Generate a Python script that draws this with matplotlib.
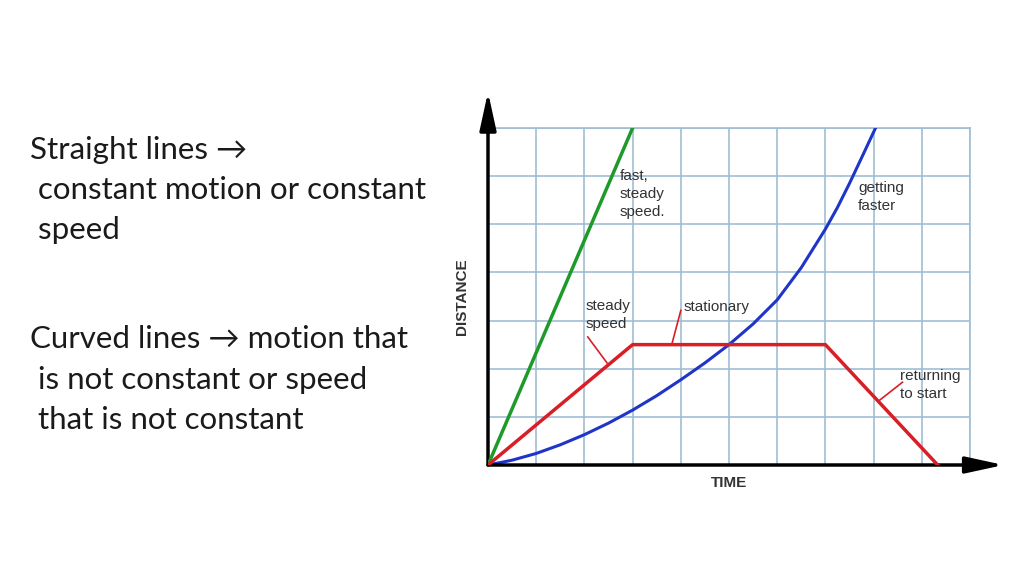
import numpy as np
import matplotlib.pyplot as plt

# grid units: time 0..10, distance 0..7
fast_t = [0, 3]
fast_d = [0, 7]

steady_t = [0, 3, 7, 9.33]
steady_d = [0, 2.5, 2.5, 0]

accel_t = [0, 0.5, 1, 1.5, 2, 2.5, 3, 3.5, 4, 4.5, 5, 5.5, 6, 6.5, 7, 7.25, 7.5, 7.75, 8.04]
accel_d = [0, 0.1, 0.24, 0.42, 0.63, 0.87, 1.14, 1.44, 1.77, 2.12, 2.5, 2.93, 3.43, 4.1, 4.9, 5.35, 5.85, 6.38, 7.0]

left_lines = ["Straight lines \u2192", " constant motion or constant", " speed",
              "Curved lines \u2192 motion that", " is not constant or speed", " that is not constant"]
left_y = [150, 190, 230, 339, 380, 420]

plt.rcParams['font.family'] = ['Lato', 'DejaVu Sans']
fig = plt.figure(figsize=(10.24, 5.76), dpi=100)

for s, y in zip(left_lines, left_y):
    fig.text(30 / 1024, 1 - y / 576, s, fontsize=22.5, va='center', ha='left', color='#1a1a1a')

ax = fig.add_axes([488 / 1024, 1 - 465 / 576, 482 / 1024, 337 / 576])
ax.set_xlim(0, 10)
ax.set_ylim(0, 7)
ax.set_xticks(range(11))
ax.set_yticks(range(8))
ax.grid(True, color='#9fbdd3', lw=1.2)
ax.tick_params(length=0, labelbottom=False, labelleft=False)
for sp in ['top', 'right']:
    ax.spines[sp].set_color('#9fbdd3')
    ax.spines[sp].set_linewidth(1.2)
for sp in ['left', 'bottom']:
    ax.spines[sp].set_visible(False)

ax.plot(fast_t, fast_d, color='#1e9a2a', lw=2.5, zorder=4)
ax.plot(steady_t, steady_d, color='#d81f26', lw=2.5, zorder=4)
ax.plot(accel_t, accel_d, color='#1f35c8', lw=2.2, zorder=3)

# axes with arrow heads
head = '-|>,head_length=2.3,head_width=0.5'
ax.annotate('', xy=(10.7, 0), xytext=(0, 0), annotation_clip=False,
            arrowprops=dict(arrowstyle=head, color='black', lw=2.5, shrinkA=0, shrinkB=0))
ax.annotate('', xy=(0, 7.75), xytext=(0, 0), annotation_clip=False,
            arrowprops=dict(arrowstyle=head, color='black', lw=2.5, shrinkA=0, shrinkB=0))

lab = dict(fontsize=11, color='#333333', family=['Liberation Sans', 'DejaVu Sans'], linespacing=1.35)
ax.text(2.73, 6.15, 'fast,\nsteady\nspeed.', va='top', ha='left', **lab)
ax.text(7.68, 5.9, 'getting\nfaster', va='top', ha='left', **lab)
ax.text(2.02, 3.45, 'steady\nspeed', va='top', ha='left', **lab)
ax.text(4.05, 3.29, 'stationary', va='center', ha='left', **lab)
ax.text(8.55, 2.0, 'returning\nto start', va='top', ha='left', **lab)

ax.set_xlabel('TIME', fontsize=11, fontweight='bold', color='#333333',
              family=['Liberation Sans', 'DejaVu Sans'], labelpad=8)
ax.set_ylabel('DISTANCE', fontsize=11, fontweight='bold', color='#333333',
              family=['Liberation Sans', 'DejaVu Sans'], labelpad=14)

# leader lines from labels to the red line
ax.plot([2.07, 2.47], [2.66, 2.12], color='#d81f26', lw=1.2, clip_on=False)
ax.plot([4.0, 3.82], [3.21, 2.53], color='#d81f26', lw=1.2, clip_on=False)
ax.plot([8.6, 8.13], [1.72, 1.35], color='#d81f26', lw=1.2, clip_on=False)

fig.savefig('out.png', dpi=100)
